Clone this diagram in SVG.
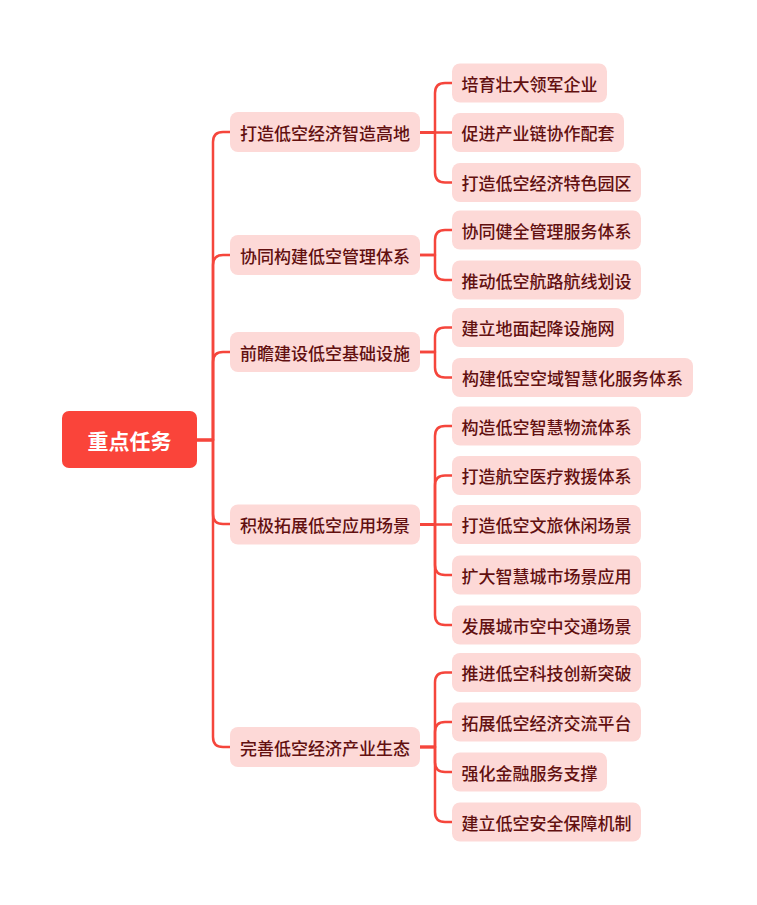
<svg xmlns="http://www.w3.org/2000/svg" width="757" height="905" viewBox="0 0 757 905">
<style>
.c{fill:none;stroke:#f5463c;stroke-width:2.5;stroke-linecap:round;stroke-linejoin:round}
.n rect{fill:#fdd9d7}
.n text{fill:#621010;font-family:"Noto Sans CJK SC","Noto Sans",sans-serif;font-size:17px;font-weight:500;text-anchor:middle;dominant-baseline:central}
.r rect{fill:#fa443a}
.r text{fill:#ffffff;font-family:"Noto Sans CJK SC","Noto Sans",sans-serif;font-size:21px;font-weight:bold;text-anchor:middle;dominant-baseline:central}
</style>
<rect width="757" height="905" fill="#ffffff"/>
<g id="connectors">
<path class="c" d="M197,440 H213 V142 Q213,132 223,132 H230"/>
<path class="c" d="M197,440 H213 V265 Q213,255 223,255 H230"/>
<path class="c" d="M197,440 H213 V362 Q213,352 223,352 H230"/>
<path class="c" d="M197,440 H213 V514 Q213,524 223,524 H230"/>
<path class="c" d="M197,440 H213 V737 Q213,747 223,747 H230"/>
<path class="c" d="M420,132.5 H435 V93 Q435,83 445,83 H452"/>
<path class="c" d="M420,132.5 H452"/>
<path class="c" d="M420,132.5 H435 V172.5 Q435,182.5 445,182.5 H452"/>
<path class="c" d="M420,255 H435 V240 Q435,230 445,230 H452"/>
<path class="c" d="M420,255 H435 V270 Q435,280 445,280 H452"/>
<path class="c" d="M420,352 H435 V337.5 Q435,327.5 445,327.5 H452"/>
<path class="c" d="M420,352 H435 V367.5 Q435,377.5 445,377.5 H452"/>
<path class="c" d="M420,524.5 H435 V436 Q435,426 445,426 H452"/>
<path class="c" d="M420,524.5 H435 V485.5 Q435,475.5 445,475.5 H452"/>
<path class="c" d="M420,524.5 H452"/>
<path class="c" d="M420,524.5 H435 V565 Q435,575 445,575 H452"/>
<path class="c" d="M420,524.5 H435 V615 Q435,625 445,625 H452"/>
<path class="c" d="M420,747 H435 V682.5 Q435,672.5 445,672.5 H452"/>
<path class="c" d="M420,747 H435 V732 Q435,722 445,722 H452"/>
<path class="c" d="M420,747 H435 V762 Q435,772 445,772 H452"/>
<path class="c" d="M420,747 H435 V812 Q435,822 445,822 H452"/>
</g>
<g id="root" class="r"><rect x="62" y="411" width="135" height="57" rx="7"/><text x="129.5" y="440">重点任务</text></g>
<g id="l1-1" class="n"><rect x="230" y="112" width="190" height="40" rx="8"/><text x="325" y="132">打造低空经济智造高地</text></g>
<g id="l1-2" class="n"><rect x="230" y="235" width="190" height="40" rx="8"/><text x="325" y="255">协同构建低空管理体系</text></g>
<g id="l1-3" class="n"><rect x="230" y="332" width="190" height="40" rx="8"/><text x="325" y="352">前瞻建设低空基础设施</text></g>
<g id="l1-4" class="n"><rect x="230" y="504.5" width="190" height="40" rx="8"/><text x="325" y="524.5">积极拓展低空应用场景</text></g>
<g id="l1-5" class="n"><rect x="230" y="727" width="190" height="40" rx="8"/><text x="325" y="747">完善低空经济产业生态</text></g>
<g id="c1-1" class="n"><rect x="452" y="63.5" width="155" height="39" rx="8"/><text x="529.5" y="83">培育壮大领军企业</text></g>
<g id="c1-2" class="n"><rect x="452" y="113" width="172" height="39" rx="8"/><text x="538" y="132.5">促进产业链协作配套</text></g>
<g id="c1-3" class="n"><rect x="452" y="163" width="189" height="39" rx="8"/><text x="546.5" y="182.5">打造低空经济特色园区</text></g>
<g id="c2-1" class="n"><rect x="452" y="210.5" width="189" height="39" rx="8"/><text x="546.5" y="230">协同健全管理服务体系</text></g>
<g id="c2-2" class="n"><rect x="452" y="260.5" width="189" height="39" rx="8"/><text x="546.5" y="280">推动低空航路航线划设</text></g>
<g id="c3-1" class="n"><rect x="452" y="308" width="172" height="39" rx="8"/><text x="538" y="327.5">建立地面起降设施网</text></g>
<g id="c3-2" class="n"><rect x="452" y="358" width="241" height="39" rx="8"/><text x="572.5" y="377.5">构建低空空域智慧化服务体系</text></g>
<g id="c4-1" class="n"><rect x="452" y="406.5" width="189" height="39" rx="8"/><text x="546.5" y="426">构造低空智慧物流体系</text></g>
<g id="c4-2" class="n"><rect x="452" y="456" width="189" height="39" rx="8"/><text x="546.5" y="475.5">打造航空医疗救援体系</text></g>
<g id="c4-3" class="n"><rect x="452" y="505" width="189" height="39" rx="8"/><text x="546.5" y="524.5">打造低空文旅休闲场景</text></g>
<g id="c4-4" class="n"><rect x="452" y="555.5" width="189" height="39" rx="8"/><text x="546.5" y="575">扩大智慧城市场景应用</text></g>
<g id="c4-5" class="n"><rect x="452" y="605.5" width="189" height="39" rx="8"/><text x="546.5" y="625">发展城市空中交通场景</text></g>
<g id="c5-1" class="n"><rect x="452" y="653" width="189" height="39" rx="8"/><text x="546.5" y="672.5">推进低空科技创新突破</text></g>
<g id="c5-2" class="n"><rect x="452" y="702.5" width="189" height="39" rx="8"/><text x="546.5" y="722">拓展低空经济交流平台</text></g>
<g id="c5-3" class="n"><rect x="452" y="752.5" width="155" height="39" rx="8"/><text x="529.5" y="772">强化金融服务支撑</text></g>
<g id="c5-4" class="n"><rect x="452" y="802.5" width="189" height="39" rx="8"/><text x="546.5" y="822">建立低空安全保障机制</text></g>
</svg>
